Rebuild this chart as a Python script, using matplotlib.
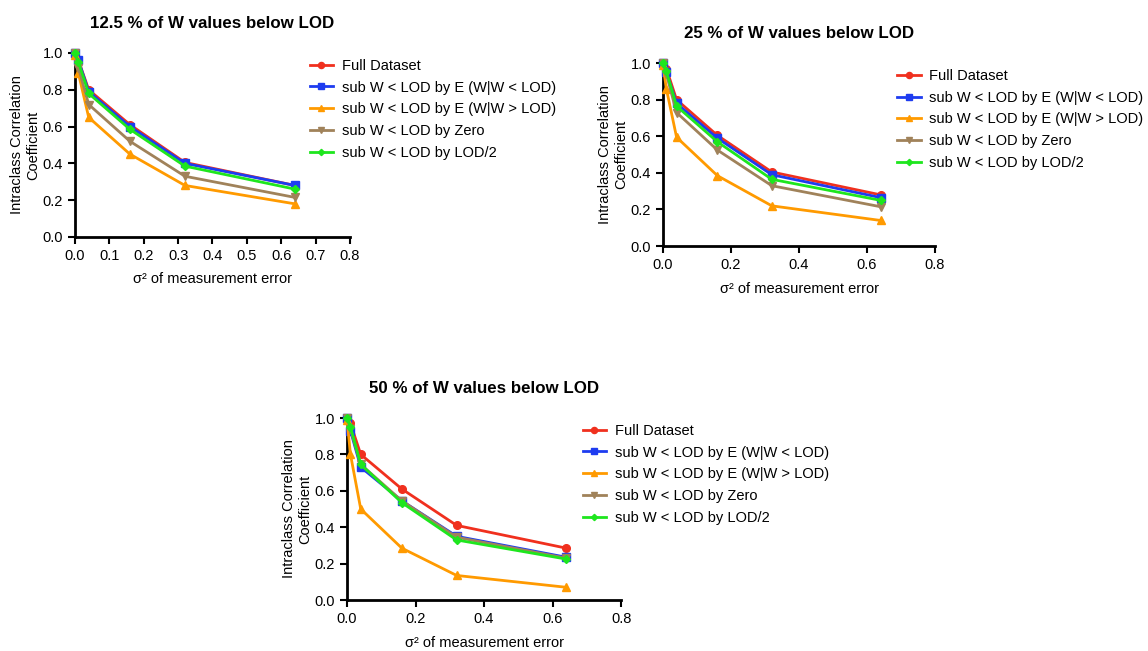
import numpy as np
import matplotlib
matplotlib.use("Agg")
import matplotlib.pyplot as plt

plt.rcParams['font.family'] = ['Liberation Sans', 'DejaVu Sans']

# measurement error variance levels
sigma2 = [0.0, 0.01, 0.04, 0.16, 0.32, 0.64]

labels = ['Full Dataset',
          'sub W < LOD by E (W|W < LOD)',
          'sub W < LOD by E (W|W > LOD)',
          'sub W < LOD by Zero',
          'sub W < LOD by LOD/2']
colors = ['#f0301e', '#1e3cf0', '#ff9a00', '#a0825a', '#1ee61e']
markers = ['o', 's', '^', 'v', 'D']

# 12.5 % below LOD
icc_125 = {
    'full':   [1.00, 0.96, 0.80, 0.61, 0.405, 0.28],
    'e_low':  [1.00, 0.96, 0.79, 0.60, 0.40, 0.28],
    'e_high': [0.99, 0.89, 0.65, 0.45, 0.28, 0.18],
    'zero':   [1.00, 0.92, 0.72, 0.52, 0.33, 0.215],
    'half':   [1.00, 0.95, 0.78, 0.585, 0.385, 0.26],
}
# 25 % below LOD
icc_25 = {
    'full':   [1.00, 0.97, 0.80, 0.605, 0.405, 0.28],
    'e_low':  [1.00, 0.95, 0.78, 0.59, 0.39, 0.265],
    'e_high': [0.99, 0.86, 0.595, 0.385, 0.22, 0.14],
    'zero':   [1.00, 0.94, 0.73, 0.525, 0.33, 0.215],
    'half':   [1.00, 0.955, 0.765, 0.57, 0.365, 0.25],
}
# 50 % below LOD
icc_50 = {
    'full':   [1.00, 0.97, 0.80, 0.61, 0.41, 0.285],
    'e_low':  [1.00, 0.93, 0.73, 0.545, 0.35, 0.235],
    'e_high': [0.99, 0.80, 0.50, 0.285, 0.135, 0.07],
    'zero':   [1.00, 0.94, 0.745, 0.545, 0.345, 0.23],
    'half':   [1.00, 0.95, 0.745, 0.535, 0.33, 0.225],
}
keys = ['full', 'e_low', 'e_high', 'zero', 'half']

fig = plt.figure(figsize=(11.48, 6.51), dpi=100)

panels = [
    ("12.5 % of W values below LOD", icc_125, [0.0653, 0.636, 0.2395, 0.2826], 0.1, (0.832, 1.0)),
    ("25 % of W values below LOD", icc_25, [0.5775, 0.622, 0.237, 0.281], 0.2, (0.84, 1.0)),
    ("50 % of W values below LOD", icc_50, [0.3023, 0.0783, 0.2387, 0.2796], 0.2, (0.838, 1.0)),
]

for title, data, rect, xstep, leg_pos in panels:
    ax = fig.add_axes(rect)
    for k, lab, c, m in zip(keys, labels, colors, markers):
        ms = 4 if m == 'D' else 5.5
        ax.plot(sigma2, data[k], color=c, marker=m, markersize=ms, lw=2,
                label=lab, clip_on=False, zorder=3)
    ax.set_xlim(0, 0.8)
    ax.set_ylim(0, 1.0)
    ax.set_xticks(np.arange(0, 0.8001, xstep))
    ax.set_yticks(np.arange(0, 1.0001, 0.2))
    ax.xaxis.set_major_formatter(plt.FormatStrFormatter('%.1f'))
    ax.yaxis.set_major_formatter(plt.FormatStrFormatter('%.1f'))
    for s in ['top', 'right']:
        ax.spines[s].set_visible(False)
    for s in ['left', 'bottom']:
        ax.spines[s].set_linewidth(2)
    ax.tick_params(direction='out', width=1.5, length=5, labelsize=10.5)
    ax.set_title(title, fontsize=12.2, fontweight='bold', pad=18)
    ax.set_xlabel('σ² of measurement error', fontsize=10.5, labelpad=7)
    ax.set_ylabel('Intraclass Correlation\nCoefficient', fontsize=10.5, labelpad=2)
    leg = ax.legend(loc='upper left', bbox_to_anchor=leg_pos, frameon=False,
                    fontsize=10.5, labelspacing=0.53, handlelength=1.6,
                    handletextpad=0.6, borderaxespad=0, markerscale=0.8)

fig.savefig('out.png', dpi=100)
